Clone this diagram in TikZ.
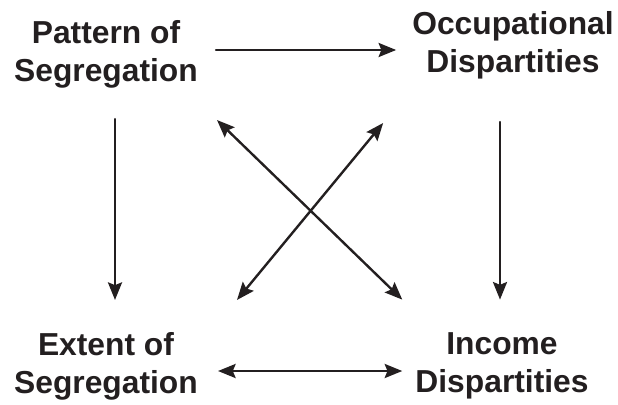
\documentclass[tikz,border=0pt]{standalone}
\usepackage{fontspec}
\setmainfont{Liberation Sans}
\usepackage{tikz}
\usetikzlibrary{arrows.meta,calc}

\definecolor{ink}{HTML}{231F20}

\begin{document}
\begin{tikzpicture}[
			x=0.025cm, y=0.025cm,
			line cap=round,
			line join=round,
			line width=1.7pt,
			color=ink,
			box/.style={inner sep=0pt, align=center,
				font=\fontsize{22.6}{27}\selectfont\bfseries},
			link/.style={-{Stealth[length=12.5pt,width=10pt,inset=2pt]}},
			both/.style={{Stealth[length=12.5pt,width=10pt,inset=2pt]}-{Stealth[length=12.5pt,width=10pt,inset=2pt]}}
			]
			
			\useasboundingbox (0,0) rectangle (618,404);
			
			% the four boxes
			\node[box] (pat) at (106,350) {Pattern of\\Segregation};
			\node[box] (occ) at (513,359) {Occupational\\Dispartities};
			\node[box] (ext) at (106,38) {Extent of\\Segregation};
			\node[box] (inc) at (502,38) {Income\\Dispartities};
			
			% one-way links
			\draw[link] ($(pat.east)+(17,4)$) -- ($(occ.west)+(-15,-5)$);
			\draw[link] ($(pat.south)+(9,-30)$) -- ($(ext.north)+(9,31)$);
			\draw[link] ($(occ.south)+(-13,-42)$) -- ($(inc.north)+(-2,32)$);
			
			% two-way links
			\draw[both] ($(ext.east)+(19,-5)$) -- ($(inc.west)+(-12,-5)$);
			\draw[both] ($(pat.south east)+(18,-31)$) -- ($(inc.north west)+(-12,32)$);
			\draw[both] ($(occ.south west)+(-28,-43)$) -- ($(ext.north east)+(38,31)$);
			
		\end{tikzpicture}
\end{document}
